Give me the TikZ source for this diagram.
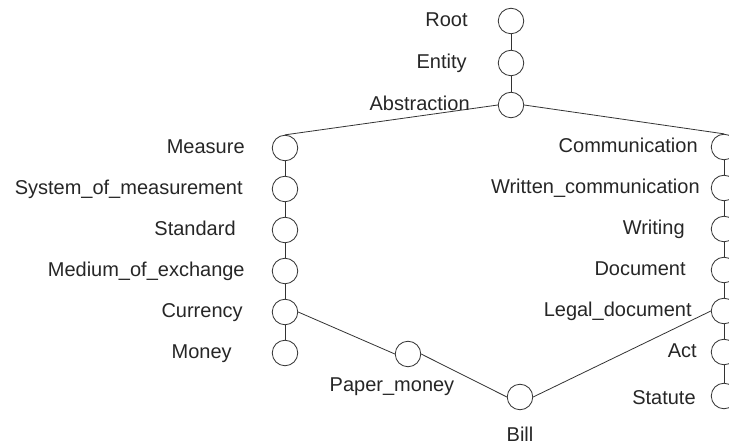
\documentclass[tikz,border=0pt]{standalone}
\usepackage{fontspec}
\setmainfont{Liberation Sans}
\usepackage{tikz}
\usetikzlibrary{positioning}

\begin{document}
\begin{tikzpicture}[x=1pt, y=1pt, node distance=41pt,
  main/.style = {draw=black!80, line width=0.8pt, circle, minimum size=25.5pt, inner sep=0pt},
  tag/.style = {inner sep=0pt, text=black!85, font=\fontsize{20}{24}\selectfont, text height=1.5ex, text depth=.25ex, yshift=-2pt}]
\useasboundingbox (0,0) rectangle (729,445);
\node[main] (root) at (511,424) {};
\node[main] (entity) [below of=root, node distance=42pt] {};
\node[main] (abstr) [below of=entity, node distance=42pt] {};
\node[main] (measure) at (285,297) {};
\node[main] (system) [below of=measure] {};
\node[main] (standard) [below of=system] {};
\node[main] (medium) [below of=standard] {};
\node[main] (currency) [below of=medium] {};
\node[main] (money) [below of=currency] {};
\node[main] (comm) at (724,298) {};
\node[main] (written) [below of=comm] {};
\node[main] (writing) [below of=written] {};
\node[main] (doc) [below of=writing] {};
\node[main] (legal) [below of=doc] {};
\node[main] (act) [below of=legal] {};
\node[main] (statute) [below of=act, node distance=44pt] {};
\node[main] (paper) at (408,91) {};
\node[main] (bill) at (520,48) {};
\node[tag, left=30pt of root] (rootl) {Root};
\node[tag, left=31pt of entity] (entityl) {Entity};
\node[tag, left=28pt of abstr] (abstrl) {Abstraction};
\node[tag, left=27pt of measure] (measurel) {Measure};
\node[tag, left=29pt of system] (systeml) {System\_of\_measurement};
\node[tag, left=36pt of standard] (standardl) {Standard};
\node[tag, left=27pt of medium] (mediuml) {Medium\_of\_exchange};
\node[tag, left=29pt of currency] (currencyl) {Currency};
\node[tag, left=40pt of money] (moneyl) {Money};
\node[tag, left=13pt of comm] (comml) {Communication};
\node[tag, left=11pt of written] (writtenl) {Written\_communication};
\node[tag, left=26pt of writing] (writingl) {Writing};
\node[tag, left=25pt of doc] (docl) {Document};
\node[tag, left=19pt of legal] (legall) {Legal\_document};
\node[tag, left=14pt of act] (actl) {Act};
\node[tag, left=15pt of statute, yshift=-3pt] (statutel) {Statute};
\node[tag, below=14pt of paper, xshift=-16pt] (paperl) {Paper\_money};
\node[tag, below=21pt of bill] (billl) {Bill};
\draw[black!80, line width=0.8pt] (root) -- (entity) -- (abstr);
\draw[black!80, line width=0.8pt] (measure) -- (system) -- (standard) -- (medium) -- (currency) -- (money);
\draw[black!80, line width=0.8pt] (comm) -- (written) -- (writing) -- (doc) -- (legal) -- (act) -- (statute);
\draw[black!80, line width=0.8pt] (abstr.west) -- (measure.north);
\draw[black!80, line width=0.8pt] (abstr.east) -- (comm.north);
\draw[black!80, line width=0.8pt] (currency.east) -- (paper.west);
\draw[black!80, line width=0.8pt] (paper.east) -- (bill.west);
\draw[black!80, line width=0.8pt] (bill.east) -- (legal.west);
\end{tikzpicture}
\end{document}
